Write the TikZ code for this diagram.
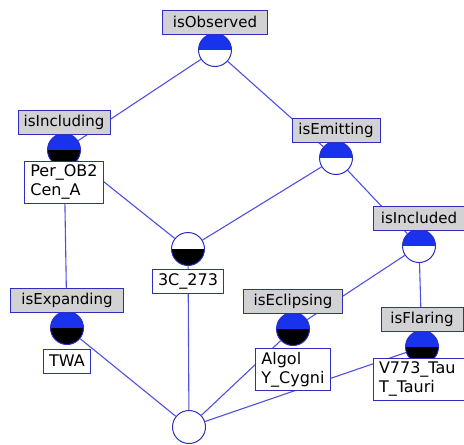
\documentclass[tikz,border=0pt]{standalone}
\usepackage{fontspec}
\setmainfont{DejaVu Sans}
\usepackage{tikz}
\usetikzlibrary{positioning}

\definecolor{lattblue}{RGB}{25,50,235}
\definecolor{lattline}{RGB}{80,80,225}
\definecolor{lattframe}{RGB}{45,45,190}
\definecolor{lattgray}{RGB}{210,210,212}

\tikzset{
  half/.style 2 args={circle, draw=lattframe, line width=1pt, minimum size=33pt, inner sep=0pt,
    path picture={
      \fill[#1] (path picture bounding box.north west) rectangle (path picture bounding box.east);
      \fill[#2] (path picture bounding box.south west) rectangle (path picture bounding box.east);
    }},
  attr/.style={draw=lattframe, fill=lattgray, line width=1pt, minimum height=24pt, inner sep=0pt,
    font=\fontsize{15}{17}\selectfont},
  obj/.style={draw=lattframe, fill=white, line width=1pt, minimum height=24pt, inner xsep=6pt,
    inner ysep=4pt, align=left, font=\fontsize{16}{19}\selectfont},
  link/.style={draw=lattline, line width=1.1pt}
}

\begin{document}
\begin{tikzpicture}[x=1pt,y=-1pt,node distance=-1.5pt]
  \fill[white] (0,0) rectangle (464,445);
  \useasboundingbox (0,0) rectangle (464,445);

  % concepts
  \node[half={lattblue}{white}] (obs)  at (215,50)  {};
  \node[half={lattblue}{black}] (incl) at (64,150)  {};
  \node[half={lattblue}{white}] (emit) at (336,158) {};
  \node[half={lattblue}{white}] (incd) at (419,246) {};
  \node[half={white}{black}]    (qso)  at (188,249) {};
  \node[half={lattblue}{black}] (expa) at (67,328)  {};
  \node[half={lattblue}{black}] (ecl)  at (293,329) {};
  \node[half={lattblue}{black}] (flar) at (422,347) {};
  \node[half={white}{white}]    (bot)  at (189,427) {};

  % lattice lines
  \foreach \a/\b in {obs/incl,obs/emit,incl/qso,incl/expa,emit/qso,emit/incd,
                     incd/ecl,incd/flar,qso/bot,expa/bot,ecl/bot,flar/bot}
    \draw[link] (\a) -- (\b);

  % attribute labels
  \node[attr, minimum width=105pt, above=of obs]  (obs-l)  {isObserved};
  \node[attr, minimum width=92pt,  above=of incl] (incl-l) {isIncluding};
  \node[attr, minimum width=88pt,  above=of emit] (emit-l) {isEmitting};
  \node[attr, minimum width=91pt,  above=of incd] (incd-l) {isIncluded};
  \node[attr, minimum width=113pt, above=of expa] (expa-l) {isExpanding};
  \node[attr, minimum width=99pt,  above=of ecl]  (ecl-l)  {isEclipsing};
  \node[attr, minimum width=82pt,  above=of flar] (flar-l) {isFlaring};

  % object labels
  \node[obj, below=-6.5pt of incl] (incl-o) {Per\_OB2\\Cen\_A};
  \node[obj, below=2.5pt of qso]   (qso-o)  {3C\_273};
  \node[obj, below=3.5pt of expa]  (expa-o) {TWA};
  \node[obj, below=1.5pt of ecl]   (ecl-o)  {Algol\\Y\_Cygni};
  \node[obj, text width=100pt, below=-6.5pt of flar, xshift=7pt] (flar-o) {V773\_Tau\\T\_Tauri};
\end{tikzpicture}
\end{document}
